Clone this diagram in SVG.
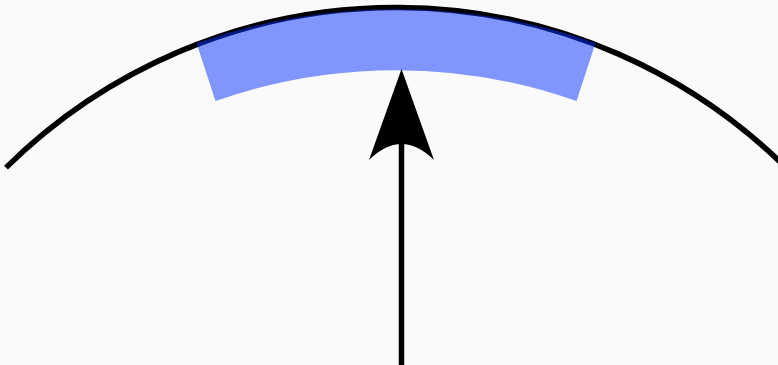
<svg xmlns="http://www.w3.org/2000/svg" width="778" height="365" viewBox="0 0 778 365">
  <style>
    .bg { fill: #fafafa; }
    .dial { fill: none; stroke: #000; stroke-width: 5.5; }
    .band { fill: #0530ff; fill-opacity: 0.5; stroke: none; }
    .shaft { fill: none; stroke: #000; stroke-width: 5.5; }
    .head { fill: #000; stroke: none; }
  </style>
  <rect class="bg" x="0" y="0" width="778" height="365"/>
  <g id="dial">
    <path class="dial" d="M 6 167.6 A 555 555 0 0 1 790 171.6"/>
  </g>
  <g id="band">
    <path class="band" d="M 196.5 43 A 604.5 604.5 0 0 1 595.5 43 L 576.5 101 A 544 544 0 0 0 215.5 101 Z"/>
  </g>
  <g id="connectors">
    <line class="shaft" x1="401.5" y1="366" x2="401.5" y2="140"/>
    <path class="head" d="M 401.5 69 L 434 160 Q 401.5 128 369 160 Z"/>
  </g>
</svg>
